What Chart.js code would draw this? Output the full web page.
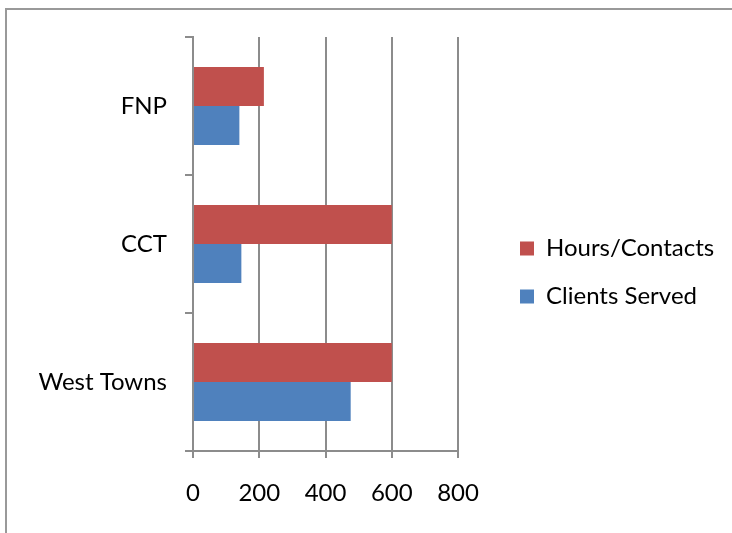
<!DOCTYPE html>
<html>
<head>
<meta charset="utf-8">
<script src="https://cdn.jsdelivr.net/npm/chart.js@4.4.0/dist/chart.umd.min.js"></script>
<style>
html, body { margin: 0; padding: 0; background: #fff; overflow: hidden; }
#frame { position: absolute; left: 5px; top: 8px; width: 800px; height: 600px; border: 2px solid #999; }
#wrap { position: absolute; left: 0; top: 0; width: 732px; height: 533px; }
</style>
</head>
<body>
<div id="frame"></div>
<div id="wrap"><canvas id="myChart"></canvas></div>
<script>
// data
let categories = ['FNP', 'CCT', 'West Towns'];
let hoursContacts = [214, 600, 600];
let clientsServed = [140, 146, 476];
let xTicks = [0, 200, 400, 600, 800];

let fontSize = 24;
let legendPad = 24;
let axisGrey = '#8c8c8c';

// push the legend over to where the original has it (and stop it clipping its text)
let legendNudge = {
    id: 'legendNudge',
    afterLayout(chart) {
        let lg = chart.legend;
        let dx = 520 - (lg.left + legendPad);
        lg.left += dx;
        lg.right = 732;
        let firstTop = (lg.top + legendPad + lg.bottom - 2 * (fontSize + legendPad)) / 2;
        let dy = (241.5 - (fontSize - 14) / 2) - firstTop;
        lg.top += dy;
        lg.bottom += dy;
    }
};

let chartData = {
    type: 'bar',
    data: {
        labels: categories,
        datasets: [
            {
                label: 'Hours/Contacts',
                data: hoursContacts,
                backgroundColor: '#C0504D'
            },
            {
                label: 'Clients Served',
                data: clientsServed,
                backgroundColor: '#4F81BD'
            }
        ]
    },
    options: {
        indexAxis: 'y',
        responsive: true,
        maintainAspectRatio: false,
        animation: false,
        categoryPercentage: 0.565,
        barPercentage: 1.0,
        // right padding chosen so the 800 gridline lands where it does in the original
        layout: { padding: { left: 0, top: 37, right: 121.3, bottom: 0 } },
        plugins: {
            tooltip: { enabled: false },
            legend: {
                position: 'right',
                labels: {
                    boxWidth: 14,
                    boxHeight: 14,
                    padding: legendPad,
                    color: '#000',
                    font: { family: 'Lato', size: fontSize }
                }
            }
        },
        scales: {
            x: {
                min: 0,
                max: 800,
                afterBuildTicks: s => { s.ticks = xTicks.map(v => ({ value: v })); },
                ticks: { padding: 21, color: '#000', font: { family: 'Lato', size: fontSize } },
                grid: { color: axisGrey, lineWidth: 2, tickLength: 7 },
                border: { color: axisGrey, width: 2 },
                afterFit: s => { s.height = 82; }
            },
            y: {
                ticks: { padding: 18, color: '#000', font: { family: 'Lato', size: fontSize } },
                grid: { drawOnChartArea: false, color: axisGrey, lineWidth: 2, tickLength: 8 },
                border: { color: axisGrey, width: 2 },
                afterFit: s => { s.width = 193; }
            }
        }
    },
    plugins: [legendNudge]
};

let ctx = document.getElementById('myChart').getContext('2d');
let myChart = new Chart(ctx, chartData);
</script>
</body>
</html>
